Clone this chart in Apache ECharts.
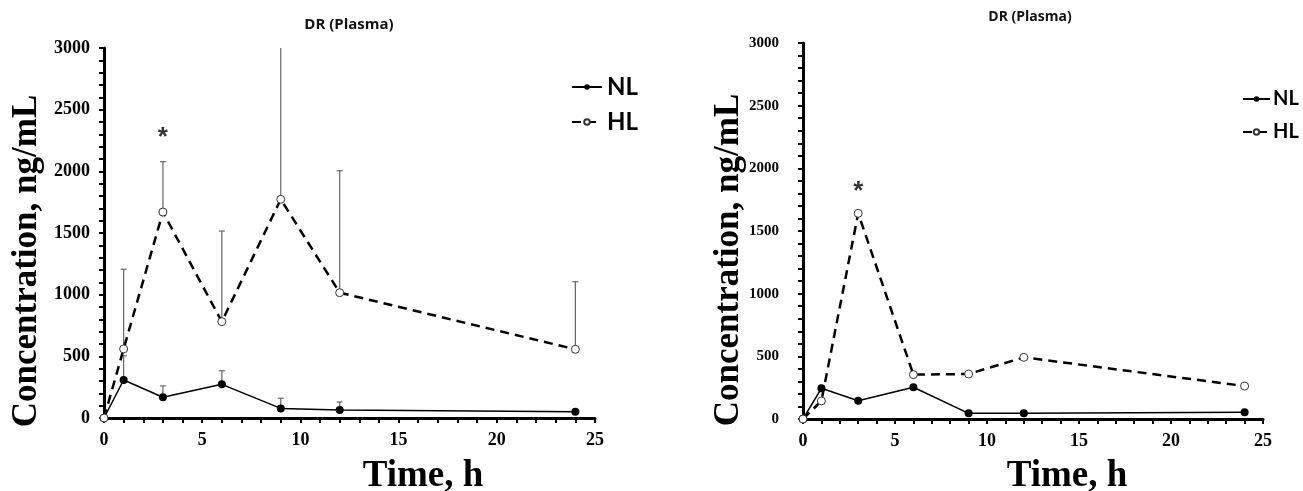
<!DOCTYPE html>
<html>
<head>
<meta charset="utf-8">
<script src="https://cdn.jsdelivr.net/npm/echarts@6/dist/echarts.min.js"></script>
<style>
html,body{margin:0;padding:0;background:#fff;}
#chart{width:1303px;height:491px;}
</style>
</head>
<body>
<div id="chart"></div>
<script>
// ---------- data ----------
const timeH = [0, 1, 3, 6, 9, 12, 24];
const chartTitle = 'DR (Plasma)';
const seriesNames = ['NL', 'HL'];
const yTicks = [0, 500, 1000, 1500, 2000, 2500, 3000];
const xTicks = [0, 5, 10, 15, 20, 25];

// left panel
const leftNL = [0, 308, 168, 273, 78, 65, 51];
const leftNLUpper = [null, 505, 260, 383, 160, 130, null];
const leftHL = [0, 560, 1670, 781, 1773, 1016, 557];
const leftHLUpper = [null, 1206, 2078, 1516, 3100, 2005, 1105];
const leftSig = [[3, 2270]];

// right panel
const rightNL = [0, 245, 146, 253, 45, 45, 53];
const rightHL = [0, 144, 1641, 354, 359, 492, 263];
const rightSig = [[3, 1815]];

// ---------- helpers ----------
const pairs = (vals) => timeH.map((t, i) => [t, vals[i]]);
const errPairs = (mean, upper) => timeH.map((t, i) => upper[i] == null ? null : [t, mean[i], upper[i]]).filter(d => d);
const YMAX = yTicks[yTicks.length - 1];
const XMAX = xTicks[xTicks.length - 1];

function errRender(params, api) {
  const x = api.value(0), lo = api.value(1), hi = api.value(2);
  const top = Math.min(hi, YMAX);
  const p0 = api.coord([x, lo]);
  const p1 = api.coord([x, top]);
  const children = [{
    type: 'line',
    shape: {x1: p0[0], y1: p0[1], x2: p1[0], y2: p1[1]},
    style: {stroke: '#666', lineWidth: 1.2}
  }];
  if (hi <= YMAX) {
    children.push({
      type: 'line',
      shape: {x1: p1[0] - 3, y1: p1[1], x2: p1[0] + 3, y2: p1[1]},
      style: {stroke: '#666', lineWidth: 1.2}
    });
  }
  return {type: 'group', children};
}

const serif = 'Liberation Serif, Times New Roman, serif';
const sans = 'Lato, Open Sans, sans-serif';
const plain = (v) => String(v);

function xAxisCfg(grid, fs) {
  return {
    gridIndex: grid, type: 'value', min: 0, max: XMAX, interval: 5,
    axisLine: {lineStyle: {color: '#000', width: 3}},
    axisTick: {show: true, length: 5, lineStyle: {color: '#000', width: 2}},
    minorTick: {show: true, splitNumber: 5, length: 5, lineStyle: {color: '#000', width: 2}},
    splitLine: {show: false},
    axisLabel: {color: '#000', fontFamily: serif, fontWeight: 'bold', fontSize: fs, margin: 13, formatter: plain}
  };
}
function yAxisCfg(grid, fs, margin) {
  return {
    gridIndex: grid, type: 'value', min: 0, max: YMAX, interval: 500,
    axisLine: {show: true, lineStyle: {color: '#000', width: 3}},
    axisTick: {show: true, length: 5, lineStyle: {color: '#000', width: 2}},
    minorTick: {show: true, splitNumber: 5, length: 5, lineStyle: {color: '#000', width: 2}},
    splitLine: {show: false},
    axisLabel: {color: '#000', fontFamily: serif, fontWeight: 'bold', fontSize: fs, margin: margin, formatter: plain}
  };
}

function panelSeries(idx, nl, hl, nlUpper, hlUpper, sig) {
  const out = [];
  if (nlUpper) out.push({type: 'custom', name: 'errNL', xAxisIndex: idx, yAxisIndex: idx, renderItem: errRender, data: errPairs(nl, nlUpper), z: 1, silent: true});
  if (hlUpper) out.push({type: 'custom', name: 'errHL', xAxisIndex: idx, yAxisIndex: idx, renderItem: errRender, data: errPairs(hl, hlUpper), z: 1, silent: true});
  out.push({
    type: 'line', name: seriesNames[0], xAxisIndex: idx, yAxisIndex: idx, data: pairs(nl),
    symbol: 'circle', symbolSize: 8, z: 3,
    lineStyle: {color: '#000', width: 1.5},
    itemStyle: {color: '#000', borderColor: '#000', borderWidth: 0}
  });
  out.push({
    type: 'line', name: seriesNames[1], xAxisIndex: idx, yAxisIndex: idx, data: pairs(hl),
    symbol: 'circle', symbolSize: 8, z: 4,
    lineStyle: {color: '#000', width: 2.5, type: [9, 6]},
    itemStyle: {color: '#fff', borderColor: '#333', borderWidth: 1}
  });
  out.push({
    type: 'scatter', name: 'sig', xAxisIndex: idx, yAxisIndex: idx, data: sig,
    symbolSize: 0, z: 5, silent: true,
    label: {show: true, formatter: '*', position: 'inside', color: '#000', fontFamily: 'Liberation Sans, sans-serif', fontWeight: 'bold', fontSize: 26}
  });
  return out;
}

const chart = echarts.init(document.getElementById('chart'), null, {renderer: 'canvas'});
chart.setOption({
  animation: false,
  backgroundColor: '#fff',
  title: [
    {text: chartTitle, left: 344, top: 12, textAlign: 'center', textStyle: {fontFamily: 'Open Sans, sans-serif', fontWeight: 'bold', fontSize: 15, color: '#111'}},
    {text: chartTitle, left: 1025, top: 5, textAlign: 'center', textStyle: {fontFamily: 'Open Sans, sans-serif', fontWeight: 'bold', fontSize: 14, color: '#111'}}
  ],
  legend: [
    {data: seriesNames, orient: 'vertical', left: 571, top: 75, padding: 0, itemWidth: 30, itemHeight: 7, itemGap: 11,
     textStyle: {fontFamily: sans, fontWeight: 'bold', fontSize: 24, color: '#000'}},
    {data: seriesNames, orient: 'vertical', left: 1242, top: 89, padding: 0, itemWidth: 27, itemHeight: 7, itemGap: 13,
     textStyle: {fontFamily: sans, fontWeight: 'bold', fontSize: 20, color: '#000', padding: [0, 0, 0, -2]}}
  ],
  grid: [
    {left: 104, top: 48, width: 491, height: 370},
    {left: 803, top: 43, width: 460, height: 376}
  ],
  xAxis: [xAxisCfg(0, 18), xAxisCfg(1, 18)],
  yAxis: [yAxisCfg(0, 18, 14), yAxisCfg(1, 15, 24)],
  series: [].concat(
    panelSeries(0, leftNL, leftHL, leftNLUpper, leftHLUpper, leftSig),
    panelSeries(1, rightNL, rightHL, null, null, rightSig)
  ),
  graphic: [
    {type: 'text', x: 27, y: 261, rotation: Math.PI / 2, style: {text: 'Concentration, ng/mL', fontFamily: serif, fontWeight: 'bold', fontSize: 35, fill: '#000', align: 'center', verticalAlign: 'middle'}},
    {type: 'text', x: 729, y: 260, rotation: Math.PI / 2, style: {text: 'Concentration, ng/mL', fontFamily: serif, fontWeight: 'bold', fontSize: 35, fill: '#000', align: 'center', verticalAlign: 'middle'}},
    {type: 'text', x: 423, y: 476, style: {text: 'Time, h', fontFamily: serif, fontWeight: 'bold', fontSize: 37, fill: '#000', align: 'center', verticalAlign: 'middle'}},
    {type: 'text', x: 1067, y: 476, style: {text: 'Time, h', fontFamily: serif, fontWeight: 'bold', fontSize: 37, fill: '#000', align: 'center', verticalAlign: 'middle'}}
  ]
});
</script>
</body>
</html>
